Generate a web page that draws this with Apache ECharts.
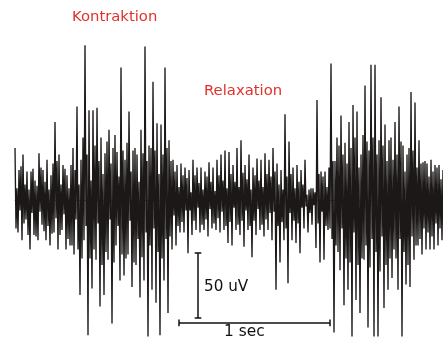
<!DOCTYPE html>
<html><head><meta charset="utf-8">
<script src="https://cdn.jsdelivr.net/npm/echarts@6/dist/echarts.min.js"></script>
<style>html,body{margin:0;padding:0;background:#fff}#c{width:443px;height:338px}</style>
</head><body><div id="c"></div>
<script>
// EMG trace, values in uV (about 151 samples per second)
const SAMPLE_RATE = 151; // samples per second
const restOnset = [40,-22,9,-25,23,-8,26,-31,35,-18,12,-15,22,-27,8,-38,22,-10,24,-27,15,-28,11,-31,36,-9,25,-19,23,-24,14,-31,31,-20,8,-35,19,-26,28,-25,60,-14,30,-38,35,-27,12,-23,27,-11,24,-38,19,-30,9,-35];
const contraction = [27,-35,40,-42,23,-15,72,-38,12,-73,31,-45,48,-31,119,-20,35,-104,69,-45,15,-68,69,-38,42,-46,71,-18,30,-82,48,-50,20,-73,36,-40,45,-46,54,-15,28,-95,40,-48,50,-35,37,-20,18,-62,102,-42,38,-58,31,-45,44,-42,68,-16,22,-67,38,-48,40,-50,35,-30,14,-75,54,-44,36,-62,118,-25,30,-105];
const contractionEnd = [42,-35,40,-69,91,-22,38,-79,59,-40,20,-104,58,-45,35,-62,102,-30,40,-87,46,-28,30,-38,31,-12,22,-35,27,-20,10,-25,28,-17,19,-25,25,-8];
const relaxation = [17,-41,23,-8,6,-27,31,-16,19,-23,25,-6,13,-25,25,-19,8,-23,22,-15,18,-28,29,-7,14,-22,25,-18,7,-23,31,-14,19,-25,35,-9,15,-23,38,-20,9,-33,37,-17,20,-35,27,-6,14,-23,40,-19,10,-27,46,-16,21,-36,27,-8,16,-23,35,-20,8,-44,25,-16,19,-27,32,-7,15,-23,31,-19,10,-28,36,-15,20,-23,31,-10];
const transition = [18,-31,40,-9,22,-69,28,-20,12,-48,23,-17,8,-31,66,-22,18,-64,45,-10,20,-31,25,-16,9,-33,27,-18,14,-41,23,-6,12,-22,31,-5,4,-25,8,-10,9,-19,9,-4,6,-37,77,-18,20,-48,22,-9,18,-46,22,-20,10,-23,25,-22,105,-30,30,-102];
const secondBurst = [30,-35,48,-40,42,-54,65,-22,35,-81,44,-45,28,-69,60,-48,40,-105,73,-25,48,-77,68,-50,25,-87,35,-45,50,-46,88,-35,45,-98,38,-52,104,-30,48,-105,104,-40,35,-105,46,-55,79,-28,42,-83,58,-50,30,-69,46,-45,48,-60,31,-38,60,-45,35,-69,72,-30,45,-105,42,-40,22,-65,35,-50,40,-67,83,-28,38,-46,75,-35,25,-35,46,-30,28,-42,29,-22,30,-38,28,-25,18,-38,31,-28,22,-38,27,-18,25,-35,27,-22,16,-31,23];

const signal = [].concat(restOnset, contraction, contractionEnd, relaxation, transition, secondBurst);
const sampleLabels = signal.map((_, i) => String(i));
const duration = (signal.length - 1) / SAMPLE_RATE;

const annotations = ['Kontraktion', 'Relaxation'];
const scaleAmp = 50;   // uV
const scaleAmpText = '50 uV';
const scaleTime = 1;   // s
const scaleTimeText = '1 sec';

// scale bar anchors (data units: s, uV)
const vBarT = 1.212, vBarTop = -40.8;
const hBarT = 1.086, hBarY = -94.6;
const capT = 0.022, capV = 2.6;

const seg = (a, b) => [{coord: a}, {coord: b}];

const chart = echarts.init(document.getElementById('c'), null, {renderer: 'canvas'});
chart.setOption({
  animation: false,
  backgroundColor: '#fff',
  grid: {left: 15, right: 0, top: 0, bottom: 0},
  xAxis: [
    {type: 'category', data: sampleLabels, boundaryGap: false,
     axisLine: {show: true, onZero: true, lineStyle: {color: '#555', width: 0.7}},
     axisTick: {show: false}, axisLabel: {show: false}, splitLine: {show: false}},
    {type: 'value', min: 0, max: duration, show: false}
  ],
  yAxis: {type: 'value', min: -106.15, max: 153.85, show: false, splitLine: {show: false}},
  series: [
    {type: 'line', data: signal, xAxisIndex: 0, showSymbol: false, symbol: 'none',
     sampling: null, lineStyle: {color: '#1c1818', width: 1.35}, z: 2},
    {type: 'line', data: [], xAxisIndex: 1, showSymbol: false,
     markLine: {
       silent: true, symbol: ['none', 'none'], label: {show: false},
       lineStyle: {color: '#111', width: 1.5, type: 'solid'},
       data: [
         seg([vBarT, vBarTop], [vBarT, vBarTop - scaleAmp]),
         seg([vBarT - capT, vBarTop], [vBarT + capT, vBarTop]),
         seg([vBarT - capT, vBarTop - scaleAmp], [vBarT + capT, vBarTop - scaleAmp]),
         seg([hBarT, hBarY], [hBarT + scaleTime, hBarY]),
         seg([hBarT, hBarY + capV], [hBarT, hBarY - capV]),
         seg([hBarT + scaleTime, hBarY + capV], [hBarT + scaleTime, hBarY - capV])
       ]
     }}
  ],
  graphic: [
    {type: 'text', left: 72, top: 10, style: {text: annotations[0], fill: '#e0302a', font: '14.8px "DejaVu Sans"'}},
    {type: 'text', left: 204, top: 84, style: {text: annotations[1], fill: '#e0302a', font: '14.8px "DejaVu Sans"'}},
    {type: 'text', left: 204, top: 280, style: {text: scaleAmpText, fill: '#111', font: '15.2px "DejaVu Sans"'}},
    {type: 'text', left: 224, top: 324, style: {text: scaleTimeText, fill: '#111', font: '15.4px "DejaVu Sans"'}}
  ]
});
</script>
</body></html>
